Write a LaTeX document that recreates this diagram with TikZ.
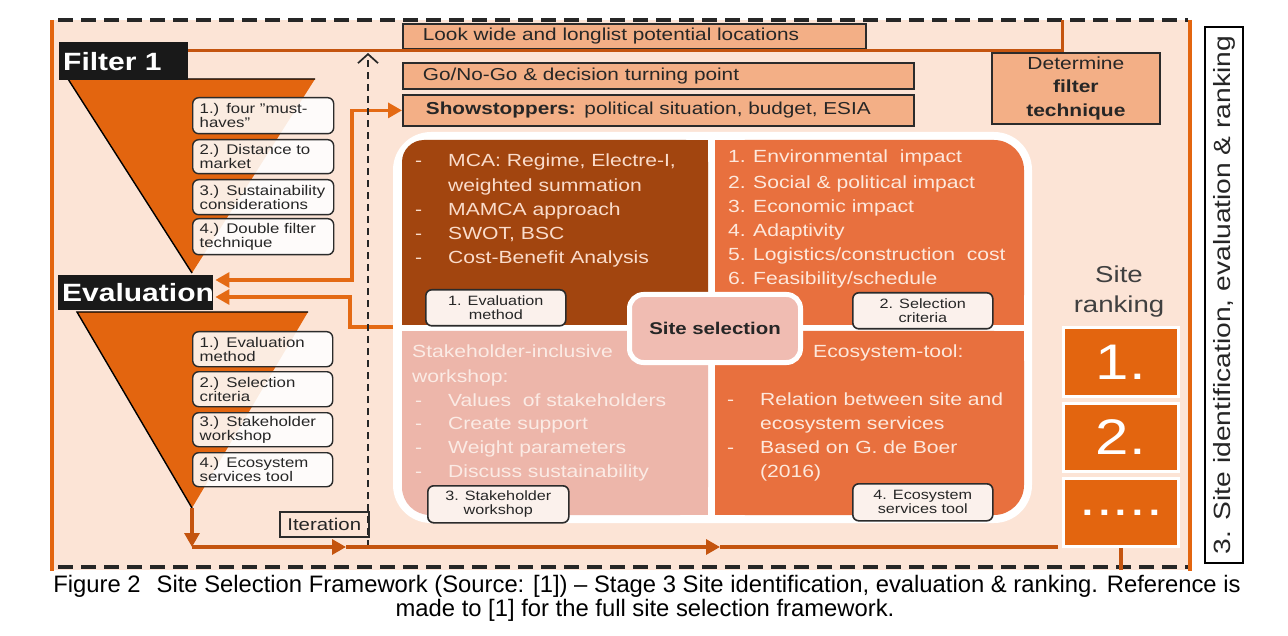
\documentclass[tikz,border=0pt]{standalone}
\usepackage{fontspec}
\setmainfont{Liberation Sans}
\newfontfamily\dfont[FakeStretch=1.2,Ligatures=TeX]{Liberation Sans}
\newfontfamily\capfont[Ligatures=TeX]{Liberation Sans}
\usetikzlibrary{arrows.meta,calc}
\newcommand{\myfs}[2]{\fontsize{#1}{#2}\selectfont}
\definecolor{peach}{HTML}{FCE4D6}
\definecolor{salmon}{HTML}{F3AF86}
\definecolor{funnel}{HTML}{E3650F}
\definecolor{lineor}{HTML}{E46A14}
\definecolor{linebr}{HTML}{C4540F}
\definecolor{qbrown}{HTML}{A2450F}
\definecolor{qorange}{HTML}{E8703E}
\definecolor{qpink}{HTML}{EDB6AA}
\definecolor{selpink}{HTML}{F0BCB2}
\definecolor{rankor}{HTML}{E3650F}
\definecolor{boxdark}{HTML}{2B2B2B}
\definecolor{txtdark}{HTML}{262626}
\definecolor{tqa}{HTML}{FADCCB}
\definecolor{tqb}{HTML}{FDE8DC}
\definecolor{tqc}{HTML}{FBEBE5}
\definecolor{lblfill}{HTML}{FBF1EC}
\begin{document}
\begin{tikzpicture}[x=1pt,y=-1pt,font=\dfont,
  hbox/.style={draw=boxdark,line width=1.8pt,fill=salmon,anchor=north west,inner xsep=20pt,inner ysep=0pt,align=left,text=txtdark,font=\dfont\myfs{17.3}{20}},
  blk/.style={fill=black!90,anchor=north west,inner sep=0pt,text=white,font=\dfont\bfseries\myfs{25}{25}},
  item/.style={draw=boxdark,line width=1.4pt,rounded corners=6pt,fill=white,fill opacity=0.88,text opacity=1,anchor=north west,inner xsep=7pt,inner ysep=0pt,align=left,text=txtdark,font=\dfont\myfs{14}{14}},
  lbl/.style={draw=boxdark,line width=1.6pt,rounded corners=6pt,fill=lblfill,anchor=north west,inner sep=0pt,align=center,text=txtdark,font=\dfont\myfs{13.5}{14}},
  qt/.style={anchor=base west,inner sep=0pt,font=\dfont\myfs{17.6}{20}},
  flow/.style={draw=lineor,line width=3.2pt},
  tip/.style={-{Triangle[length=14pt,width=15pt]}},
  rank/.style={fill=rankor,draw=white,line width=3pt,anchor=north west,inner sep=0pt,text=white,font=\dfont\myfs{50}{50}}
]
\useasboundingbox (0,0) rectangle (1288,636);
\fill[white] (0,0) rectangle (1288,636);
\fill[peach] (50,20) rectangle (1192,570);
% panel borders
\draw[line width=3.2pt,funnel] (52,20) -- (52,571);
\draw[line width=3.2pt,funnel] (1190,20) -- (1190,571);
\draw[line width=3.2pt,dash pattern=on 15pt off 8pt,black!85] (58,20) -- (1188,20);
\draw[line width=3.2pt,dash pattern=on 15pt off 8pt,black!85] (58,567) -- (1188,567);

% funnels
\fill[funnel] (68,79) -- (315,79) -- (192,273) -- cycle;
\draw[black,line width=1.4pt] (192,273) -- (68,79) -- (315,79);
\fill[funnel] (77,312) -- (308,312) -- (192,508) -- cycle;
\draw[black,line width=1.4pt] (192,508) -- (77,312) -- (308,312);
\coordinate (eapex) at (192,508);

% black labels
\node[blk,minimum height=38pt,text width=121pt,inner xsep=4pt,align=left] (f1) at (59,42) {Filter 1};
\node[blk,minimum height=35pt,text width=147pt,inner xsep=4pt,align=left] (ev) at (58,275) {Evaluation};

% top boxes
\node[hbox,minimum height=25pt,text width=423pt] (look) at (402,23) {Look wide and longlist potential locations};
\node[hbox,minimum height=26pt,text width=471pt] (gonogo) at (402,62) {Go/No-Go \& decision turning point};
\node[hbox,minimum height=31pt,text width=465pt,inner xsep=23pt] (show) at (402,94) {\textbf{Showstoppers:} political situation, budget, ESIA};
\node[hbox,align=center,inner xsep=0pt,text width=168pt,minimum height=71pt,font=\dfont\myfs{17.5}{23.5}] (det) at (991,52) {Determine\\\textbf{filter}\\\textbf{technique}};

% top line
\coordinate (topR) at (1062,51);
\coordinate (topU) at (1062,20);
\draw[flow,draw=linebr,line width=3pt] ($(f1.north east)+(0,9)$) -- (topR) -- (topU);

% quadrant panel
\fill[white,rounded corners=38pt] (393,132) rectangle (1032,523);
\fill[qbrown,rounded corners=22pt] (402,140) rectangle (708,325);
\fill[qbrown] (430,140) rectangle (708,325);
\fill[qbrown] (402,168) rectangle (708,325);
\fill[qorange,rounded corners=30pt] (715,140) rectangle (1024,325);
\fill[qorange] (715,140) rectangle (990,325);
\fill[qorange] (715,175) rectangle (1024,325);
\fill[qpink,rounded corners=28pt] (402,331) rectangle (708,515);
\fill[qpink] (402,331) rectangle (708,480);
\fill[qpink] (440,331) rectangle (708,515);
\fill[qorange,rounded corners=30pt] (715,331) rectangle (1024,515);
\fill[qorange] (715,331) rectangle (1024,480);
\fill[qorange] (715,331) rectangle (990,515);

% Q1 text
\begin{scope}[every node/.style={qt,text=tqa}]
\node (qa1) at (415,167) {\makebox[33pt][l]{-}MCA: Regime, Electre-I,};
\node (qa2) at (448,192) {weighted summation};
\node (qa3) at (415,216) {\makebox[33pt][l]{-}MAMCA approach};
\node (qa4) at (415,240) {\makebox[33pt][l]{-}SWOT, BSC};
\node (qa5) at (415,264) {\makebox[33pt][l]{-}Cost-Benefit Analysis};
\end{scope}
% Q2 text
\begin{scope}[every node/.style={qt,text=tqb}]
\node (qb1) at (728,163) {\makebox[25pt][l]{1.}Environmental\ \ impact};
\node (qb2) at (728,189) {\makebox[25pt][l]{2.}Social \& political impact};
\node (qb3) at (728,213) {\makebox[25pt][l]{3.}Economic impact};
\node (qb4) at (728,237) {\makebox[25pt][l]{4.}Adaptivity};
\node (qb5) at (728,261) {\makebox[25pt][l]{5.}Logistics/construction\ \ cost};
\node (qb6) at (728,285) {\makebox[25pt][l]{6.}Feasibility/schedule};
\end{scope}
% Q3 text
\begin{scope}[every node/.style={qt,text=tqc}]
\node (qc1) at (412,357) {Stakeholder-inclusive};
\node (qc2) at (412,382) {workshop:};
\node (qc3) at (415,406) {\makebox[33pt][l]{-}Values\ \ of stakeholders};
\node (qc4) at (415,429) {\makebox[33pt][l]{-}Create support};
\node (qc5) at (415,453) {\makebox[33pt][l]{-}Weight parameters};
\node (qc6) at (415,477) {\makebox[33pt][l]{-}Discuss sustainability};
\end{scope}
% Q4 text
\begin{scope}[every node/.style={qt,text=tqb}]
\node (qd1) at (813,357) {Ecosystem-tool:};
\node (qd2) at (727,405) {\makebox[33pt][l]{-}Relation between site and};
\node (qd3) at (760,429) {ecosystem services};
\node (qd4) at (727,453) {\makebox[33pt][l]{-}Based on G. de Boer};
\node (qd5) at (760,477) {(2016)};
\end{scope}

% quadrant labels
\node[lbl,minimum width=140pt,minimum height=36pt] (la) at (425,289) {1. Evaluation\\method};
\node[lbl,minimum width=140pt,minimum height=36pt] (lb) at (852,292) {2. Selection\\criteria};
\node[lbl,minimum width=141pt,minimum height=37pt] (lc) at (427,485) {3. Stakeholder\\workshop};
\node[lbl,minimum width=140pt,minimum height=37pt] (ld) at (852,483) {4. Ecosystem\\services tool};

% site selection
\node[draw=white,line width=5pt,fill=selpink,rounded corners=14pt,minimum width=171pt,minimum height=68pt,anchor=north west,inner sep=0pt,font=\dfont\bfseries\myfs{17}{20},text=txtdark] (sel) at (627,292) {Site selection};

% funnel items
\node[item,minimum height=36pt,text width=127pt] (a1) at (192,97) {1.) four ''must-\\haves''};
\node[item,minimum height=34pt,text width=127pt] (a2) at (192,139) {2.) Distance to\\market};
\node[item,minimum height=35pt,text width=127pt] (a3) at (192,179) {3.) Sustainability\\considerations};
\node[item,minimum height=36pt,text width=127pt] (a4) at (192,218) {4.) Double filter\\technique};
\node[item,minimum height=35pt,text width=126pt] (b1) at (192,331) {1.) Evaluation\\method};
\node[item,minimum height=35pt,text width=126pt] (b2) at (192,371) {2.) Selection\\criteria};
\node[item,minimum height=34pt,text width=126pt] (b3) at (192,412) {3.) Stakeholder\\workshop};
\node[item,minimum height=34pt,text width=126pt] (b4) at (192,452) {4.) Ecosystem\\services tool};

% arrows into Evaluation
\draw[flow,{Triangle[length=14pt,width=15pt]}-{Triangle[length=14pt,width=15pt]}] ($(ev.north east)+(2,5)$) -- (352,280) |- (show.west);
\coordinate (qin) at (393,327);
\draw[flow,tip] (qin) -- (350,327) -- (350,297) -- ($(ev.north east)+(2,22)$);

% iteration
\node[draw=boxdark,line width=1.5pt,fill=peach,anchor=north west,minimum width=89pt,minimum height=25pt,inner sep=0pt,font=\dfont\myfs{17}{20},text=txtdark] (iter) at (279,511) {Iteration};
\coordinate (itB) at (368,547);
\coordinate (itT) at (368,53);
\draw[black!85,line width=1.7pt,dash pattern=on 7pt off 5pt,-{Straight Barb[length=9pt,width=20pt,line width=1.7pt]}] (itB) -- (itT);

% site ranking
\node[anchor=base,inner sep=0pt,font=\dfont\myfs{23}{30},text=black!75] (sr1) at (1119,283) {Site};
\node[anchor=base,inner sep=0pt,font=\dfont\myfs{23}{30},text=black!75] (sr2) at (1119,313) {ranking};
\node[rank,minimum width=115pt,minimum height=69pt] (r1) at (1062,326) {1.};
\node[rank,minimum width=115pt,minimum height=68pt] (r2) at (1062,402) {2.};
\node[rank,minimum width=115pt,minimum height=68pt] (r3) at (1062,477) {.....};

% bottom flow
\coordinate (ecorner) at (192,547);
\coordinate (m1) at (346,547);
\coordinate (m2) at (720,547);
\coordinate (bend) at (1058,547);
\draw[flow,draw=linebr,tip] (eapex) -- (ecorner);
\draw[flow,draw=linebr,tip] (ecorner) -- (m1);
\draw[flow,draw=linebr,tip] (m1) -- (m2);
\draw[flow,draw=linebr] (m2) -- (bend);
\draw[flow,draw=linebr] (r3.south) -- ++(0,22);

% stage label
\node[draw=black,line width=2pt,fill=white,minimum width=536pt,minimum height=38pt,rotate=90,inner sep=0pt,font=\dfont\myfs{23.5}{23.5},text=txtdark] (stage) at (1224,295) {3. Site identification, evaluation \& ranking};

% caption
\node[anchor=base,inner sep=0pt,font=\capfont\myfs{23.8}{25}] (cap1) at (647,592) {Figure 2\hspace{16pt}Site Selection Framework (Source: [1]) – Stage 3 Site identification, evaluation \& ranking. Reference is};
\node[anchor=base,inner sep=0pt,font=\capfont\myfs{23.8}{25}] (cap2) at (645,616) {made to [1] for the full site selection framework.};
\end{tikzpicture}
\end{document}
